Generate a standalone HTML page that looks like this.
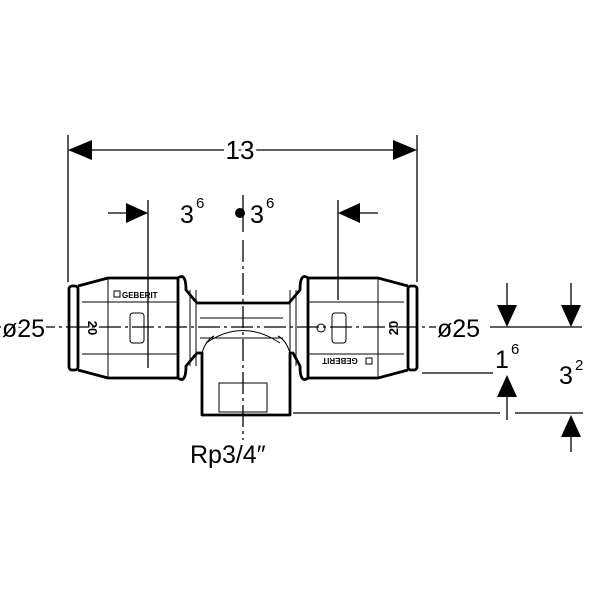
<!DOCTYPE html>
<html><head><style>body{margin:0;background:#fff}svg{display:block}text{font-family:"Liberation Sans",sans-serif;fill:#000}</style></head><body>
<svg width="600" height="600" viewBox="0 0 600 600" xmlns="http://www.w3.org/2000/svg">
<g stroke="#000" stroke-width="1.3" fill="none">
<line x1="68" y1="135" x2="68" y2="282"/>
<line x1="417" y1="135" x2="417" y2="282"/>
<line x1="86" y1="150" x2="400" y2="150"/>
<line x1="148" y1="200" x2="148" y2="368"/>
<line x1="338" y1="200" x2="338" y2="300"/>
<line x1="108" y1="213" x2="128" y2="213"/>
<line x1="358" y1="213" x2="378" y2="213"/>
<line x1="243" y1="195" x2="243" y2="232" />
<line x1="243" y1="240" x2="243" y2="440" stroke-dasharray="22,4,3,4"/>
<line x1="0" y1="327" x2="440" y2="327" stroke-dasharray="22,4,3,4"/>
<line x1="490" y1="327" x2="582" y2="327"/>
<line x1="507" y1="283" x2="507" y2="310"/>
<line x1="571" y1="283" x2="571" y2="310"/>
<line x1="422" y1="373" x2="493" y2="373"/>
<line x1="507" y1="395" x2="507" y2="420"/>
<line x1="293" y1="413" x2="500" y2="413"/>
<line x1="515" y1="413" x2="583" y2="413"/>
<line x1="571" y1="435" x2="571" y2="452"/>
</g>
<g fill="#000">
<polygon points="68,150 92,140 92,160"/>
<polygon points="417,150 393,140 393,160"/>
<polygon points="148,213 126,203 126,223"/>
<polygon points="338,213 360,203 360,223"/>
<circle cx="240" cy="213" r="5"/>
<polygon points="507,327 497,305 517,305"/>
<polygon points="571,327 561,305 581,305"/>
<polygon points="507,375 497,397 517,397"/>
<polygon points="571,415 561,437 581,437"/>
</g>
<g stroke="#000" fill="none" stroke-width="2.8" stroke-linejoin="round">
<rect x="69" y="286" width="9" height="84" rx="3"/>
<path d="M78,286 L108,278 L178,278 L178,378 L108,378 L78,370"/>
<rect x="408" y="286" width="9" height="84" rx="3"/>
<path d="M408,286 L378,278 L308,278 L308,378 L378,378 L408,370"/>
<path d="M178,278 Q186,272 186,290 L197,303 L289,303 L300,290 Q300,272 308,278"/>
<path d="M178,378 Q186,384 186,366 L197,353 L202,353 L202,415 L290,415 L290,353 L293,353 L300,366 Q300,384 308,378"/>
</g>
<g stroke="#000" fill="none" stroke-width="1">
<rect x="219" y="383" width="48" height="29"/>
<line x1="108" y1="278" x2="108" y2="378"/><line x1="378" y1="278" x2="378" y2="378"/>
<line x1="82" y1="302" x2="178" y2="302"/><line x1="82" y1="354" x2="178" y2="354"/>
<line x1="308" y1="302" x2="404" y2="302"/><line x1="308" y1="354" x2="404" y2="354"/>
<rect x="130" y="313" width="14" height="30" rx="3"/><rect x="332" y="313" width="14" height="30" rx="3"/>
<line x1="190" y1="290" x2="190" y2="366"/><line x1="196" y1="290" x2="196" y2="366"/>
<line x1="290" y1="290" x2="290" y2="366"/><line x1="296" y1="290" x2="296" y2="366"/>
<path d="M200,318 L283,318 M200,338 L283,338 M206,343 Q243,318 280,343"/>
<path d="M202,353 Q206,340 214,336 M290,353 Q286,340 278,336"/>
<circle cx="321" cy="328" r="4"/>
<rect x="114" y="291" width="6" height="6"/><rect x="366" y="358" width="6" height="6"/>
</g>
<text x="122" y="298" font-size="8" font-weight="bold">GEBERIT</text>
<text x="340" y="364" font-size="8" font-weight="bold" text-anchor="middle" transform="rotate(180 340 361)">GEBERIT</text>
<text x="92" y="328" font-size="13" font-weight="bold" transform="rotate(90 92 328)" text-anchor="middle" dy="4">20</text>
<text x="394" y="328" font-size="13" font-weight="bold" transform="rotate(-90 394 328)" text-anchor="middle" dy="4">20</text>
<text x="240" y="159" font-size="26" text-anchor="middle" style="paint-order:stroke" stroke="#fff" stroke-width="8">13</text>
<text x="180" y="223" font-size="25">3</text><text x="196" y="208" font-size="15">6</text>
<text x="250" y="223" font-size="25">3</text><text x="266" y="208" font-size="15">6</text>
<text x="2" y="337" font-size="25" style="paint-order:stroke" stroke="#fff" stroke-width="6">ø25</text>
<text x="437" y="337" font-size="25" style="paint-order:stroke" stroke="#fff" stroke-width="6">ø25</text>
<text x="495" y="368" font-size="25">1</text><text x="511" y="354" font-size="15">6</text>
<text x="559" y="384" font-size="25">3</text><text x="575" y="370" font-size="15">2</text>
<text x="190" y="463" font-size="25">Rp3/4″</text>
</svg>
</body></html>
